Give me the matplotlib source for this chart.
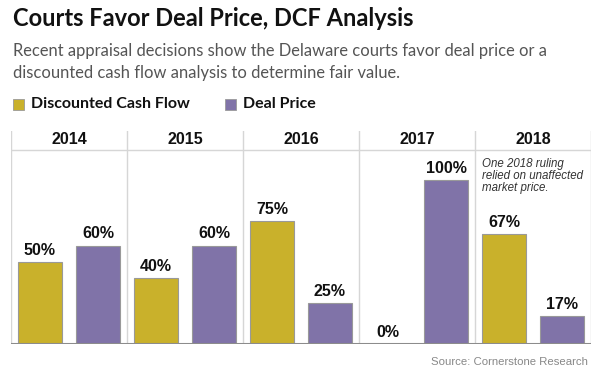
import matplotlib
matplotlib.use("Agg")
import matplotlib.pyplot as plt
from matplotlib.patches import Rectangle

# data
years = ['2014', '2015', '2016', '2017', '2018']
dcf = [50, 40, 75, 0, 67]
deal = [60, 60, 25, 100, 17]

gold = '#c9b12b'
purple = '#8073a8'

fig = plt.figure(figsize=(6, 3.81), dpi=100)

W, H = 600.0, 381.0
# main axes: x 11..591 px, y 131..344 px
ax = fig.add_axes([11 / W, 1 - 344 / H, 580 / W, 213 / H])
top = 213 / 164 * 100
ax.set_xlim(0, len(years))
ax.set_ylim(0, top)
ax.axis('off')

xs = list(range(len(years)))
ax.bar([x + 0.25 for x in xs], dcf, width=0.375, color=gold, edgecolor='#999999', linewidth=0.8)
ax.bar([x + 0.75 for x in xs], deal, width=0.375, color=purple, edgecolor='#999999', linewidth=0.8)

for i in xs:
    for off, v in ((0.25, dcf[i]), (0.75, deal[i])):
        ax.annotate('%d%%' % v, xy=(i + off, v), xytext=(0, 3), textcoords='offset points',
                    ha='center', va='bottom', fontsize=11.5, fontweight='bold',
                    family='Liberation Sans', color='#111111')

# panel separators + header
header_y = (344 - 150) / 164 * 100
for i in range(len(years) + 1):
    ax.axvline(i, color='#d6d6d6', linewidth=1, zorder=0)
ax.axhline(header_y, color='#d6d6d6', linewidth=1, zorder=0)
ax.axhline(0, color='#8c8c8c', linewidth=2.2, zorder=5)
for i, yr in enumerate(years):
    ax.text(i + 0.5, (344 - 140) / 164 * 100, yr, ha='center', va='center',
            fontsize=11.5, fontweight='bold', family='Liberation Sans', color='#111111')

ax.text(4.06, (344 - 158) / 164 * 100,
        'One 2018 ruling\nrelied on unaffected\nmarket price.',
        ha='left', va='top', fontsize=8.3, style='italic', family='Liberation Sans',
        color='#333333', linespacing=1.0)

# titles
fig.text(13 / W, 1 - 19 / H, 'Courts Favor Deal Price, DCF Analysis', ha='left', va='center',
         fontsize=17, fontweight='bold', family='Lato', color='#111111')
fig.text(13 / W, 1 - 51 / H, 'Recent appraisal decisions show the Delaware courts favor deal price or a',
         ha='left', va='center', fontsize=11.9, family='Lato', color='#555555')
fig.text(13 / W, 1 - 73 / H, 'discounted cash flow analysis to determine fair value.',
         ha='left', va='center', fontsize=11.9, family='Lato', color='#555555')

# legend
for px, lab, col in ((13, 'Discounted Cash Flow', gold), (225, 'Deal Price', purple)):
    fig.patches.append(Rectangle((px / W, 1 - 110 / H), 11 / W, 11 / H, transform=fig.transFigure,
                                 facecolor=col, edgecolor='#999999', linewidth=0.6))
    fig.text((px + 18) / W, 1 - 104.5 / H, lab, ha='left', va='center', fontsize=11.5,
             fontweight='bold', family='Lato', color='#111111')

fig.text(588 / W, 1 - 362 / H, 'Source: Cornerstone Research', ha='right', va='center',
         fontsize=8.2, family='Liberation Sans', color='#888888')

fig.savefig('out.png', dpi=100)
